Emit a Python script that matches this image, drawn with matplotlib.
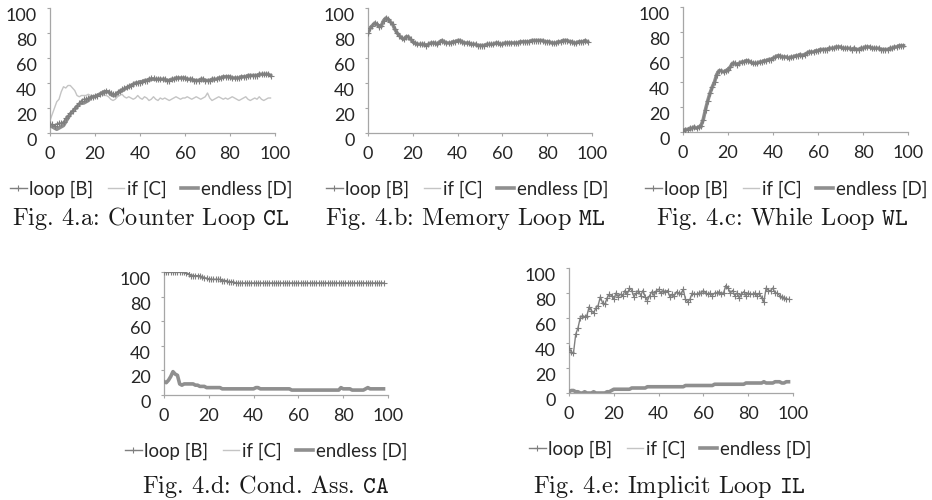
import matplotlib
matplotlib.use("Agg")
import matplotlib.pyplot as plt

plt.rcParams['mathtext.fontset'] = 'cm'

# ---------------- data ----------------
x_iter = list(range(99))

# Fig 4.a Counter Loop
a_loop = [7, 7, 6, 7, 8, 8, 9, 12, 14, 16,
          18, 20, 22, 24, 26, 27, 27, 28, 29, 29,
          30, 30, 31, 32, 33, 34, 33, 32, 31, 31,
          33, 34, 35, 36, 37, 38, 38, 39, 40, 40,
          40, 41, 42, 42, 43, 44, 44, 43, 43, 43,
          43, 43, 42, 42, 43, 43, 44, 44, 44, 44,
          44, 43, 43, 43, 42, 42, 42, 43, 43, 42,
          42, 42, 43, 43, 43, 44, 44, 45, 45, 45,
          45, 44, 44, 44, 44, 45, 45, 45, 46, 46,
          46, 46, 46, 47, 47, 47, 47, 47, 46]
a_if = [10, 15, 20, 25, 27, 33, 37, 36, 38, 38,
        36, 34, 30, 29, 30, 30, 30, 31, 30, 29,
        30, 31, 31, 31, 30, 30, 29, 27, 26, 27,
        29, 30, 31, 29, 28, 29, 28, 27, 28, 30,
        28, 27, 29, 28, 26, 27, 29, 27, 26, 28,
        27, 28, 27, 26, 27, 28, 29, 28, 27, 28,
        28, 29, 28, 27, 28, 29, 28, 27, 28, 29,
        32, 28, 26, 27, 28, 29, 28, 27, 28, 27,
        28, 29, 28, 27, 26, 27, 28, 29, 27, 26,
        27, 28, 27, 29, 27, 26, 27, 28, 28]
a_endless = [6, 5, 4, 3, 4, 5, 6, 9, 12, 15,
             17, 19, 21, 23, 24, 24, 25, 26, 28, 29,
             29, 30, 31, 32, 33, 33, 33, 31, 30, 30,
             32, 33, 34, 35, 36, 37, 38, 39, 40, 40,
             41, 41, 42, 42, 43, 43, 43, 43, 43, 43,
             43, 43, 42, 42, 43, 43, 44, 44, 44, 44,
             44, 43, 43, 43, 42, 42, 42, 43, 43, 42,
             42, 42, 43, 43, 43, 44, 44, 45, 45, 45,
             45, 44, 44, 44, 44, 45, 45, 45, 46, 46,
             46, 46, 46, 47, 47, 47, 47, 47, 46]

# Fig 4.b Memory Loop (all three series coincide)
b_loop = [80, 84, 86, 88, 87, 85, 86, 90, 92, 91,
          89, 87, 83, 80, 78, 76, 75, 77, 77, 75,
          73, 72, 71, 71, 71, 71, 70, 71, 72, 72,
          72, 71, 73, 74, 73, 72, 72, 72, 73, 73,
          74, 74, 73, 72, 72, 72, 71, 71, 71, 70,
          70, 70, 70, 71, 71, 71, 71, 72, 72, 71,
          71, 72, 72, 72, 72, 72, 72, 72, 73, 73,
          73, 73, 73, 74, 74, 74, 74, 74, 74, 73,
          73, 73, 72, 72, 72, 73, 73, 74, 74, 74,
          73, 73, 72, 72, 73, 73, 73, 74, 73]
b_if = list(b_loop)
b_endless = list(b_loop)

# Fig 4.c While Loop (all three series coincide)
c_loop = [1, 2, 2, 3, 3, 4, 3, 4, 5, 10,
          18, 25, 31, 36, 40, 46, 49, 49, 48, 49,
          50, 52, 55, 55, 54, 55, 56, 56, 57, 57,
          56, 55, 55, 55, 56, 56, 57, 57, 58, 58,
          59, 60, 61, 61, 60, 60, 60, 59, 60, 60,
          61, 61, 62, 61, 62, 63, 64, 64, 64, 65,
          65, 66, 66, 66, 66, 67, 67, 67, 68, 68,
          68, 67, 67, 67, 67, 66, 67, 66, 66, 67,
          67, 68, 68, 68, 67, 67, 67, 67, 66, 66,
          66, 66, 67, 67, 68, 68, 69, 69, 69]
c_if = list(c_loop)
c_endless = list(c_loop)

# Fig 4.d Conditional Assignment
d_loop = [100, 100, 100, 100, 100, 100, 100, 100, 100, 100,
          99, 98, 97, 97, 97, 97, 97, 96, 95, 95,
          94, 94, 94, 94, 94, 94, 93, 93, 93, 92,
          92, 92, 91, 91, 91, 91, 91, 91, 91, 91,
          91, 91, 91, 91, 91, 91, 91, 91, 91, 91,
          91, 91, 91, 91, 91, 91, 91, 91, 91, 91,
          91, 91, 91, 91, 91, 91, 91, 91, 91, 91,
          91, 91, 91, 91, 91, 91, 91, 91, 91, 91,
          91, 91, 91, 91, 91, 91, 91, 91, 91, 91,
          91, 91, 91, 91, 91, 91, 91, 91, 91]
d_if = list(d_loop)
d_endless = [11, 10, 12, 15, 19, 17, 16, 9, 8, 9,
             9, 9, 9, 9, 8, 8, 7, 7, 7, 6,
             6, 6, 6, 6, 6, 6, 5, 5, 5, 5,
             5, 5, 5, 5, 5, 5, 5, 5, 5, 5,
             5, 6, 6, 5, 5, 5, 5, 5, 5, 5,
             5, 5, 5, 5, 5, 5, 5, 4, 4, 4,
             4, 4, 4, 4, 4, 4, 4, 4, 4, 4,
             4, 4, 4, 4, 4, 4, 4, 4, 4, 6,
             5, 5, 5, 5, 4, 4, 4, 4, 4, 4,
             5, 6, 5, 5, 5, 5, 5, 5, 5]

# Fig 4.e Implicit Loop
e_loop = [36, 33, 32, 47, 52, 60, 62, 61, 62, 69,
          66, 64, 68, 70, 77, 72, 71, 76, 79, 78,
          75, 80, 77, 79, 78, 82, 79, 84, 82, 77,
          80, 82, 78, 82, 77, 74, 78, 81, 78, 82,
          83, 80, 82, 81, 82, 77, 79, 78, 81, 80,
          79, 83, 75, 73, 75, 80, 79, 79, 80, 80,
          82, 80, 79, 80, 78, 80, 80, 81, 79, 80,
          86, 84, 80, 82, 78, 80, 76, 79, 81, 78,
          80, 79, 79, 80, 78, 80, 76, 73, 84, 82,
          82, 84, 80, 80, 78, 77, 76, 75, 75]
e_endless = [1, 2, 2, 1, 1, 0, 0, 1, 0, 0,
             0, 1, 0, 0, 0, 0, 0, 1, 1, 2,
             3, 3, 3, 3, 3, 3, 3, 3, 4, 4,
             4, 4, 4, 4, 4, 5, 5, 5, 5, 5,
             5, 5, 5, 5, 5, 5, 5, 5, 5, 5,
             5, 5, 6, 6, 6, 6, 6, 6, 6, 6,
             6, 6, 6, 6, 6, 7, 7, 7, 7, 7,
             7, 7, 7, 7, 7, 7, 7, 7, 7, 8,
             8, 8, 8, 8, 8, 8, 8, 9, 8, 8,
             8, 8, 9, 9, 9, 8, 8, 9, 9]
e_if = list(e_endless)

series_names = ['loop [B]', 'if [C]', 'endless [D]']
xticks = [0, 20, 40, 60, 80, 100]
yticks = [0, 20, 40, 60, 80, 100]

captions = ['Fig. 4.a: Counter Loop $\\mathtt{CL}$',
            'Fig. 4.b: Memory Loop $\\mathtt{ML}$',
            'Fig. 4.c: While Loop $\\mathtt{WL}$',
            'Fig. 4.d: Cond. Ass. $\\mathtt{CA}$',
            'Fig. 4.e: Implicit Loop $\\mathtt{IL}$']

panels = [(a_loop, a_if, a_endless), (b_loop, b_if, b_endless),
          (c_loop, c_if, c_endless), (d_loop, d_if, d_endless),
          (e_loop, e_if, e_endless)]

# ---------------- layout (pixels) ----------------
W, H = 932, 500
# (x0, x100, y0, y100) pixel positions of axes
boxes = [(50, 275, 133, 8), (368, 592, 133, 8), (683, 908, 132, 7),
         (164, 388, 395, 272), (569, 793, 393, 268)]
legend_pos = [(151, 189), (467, 189), (786, 189), (266, 451), (670, 449)]
legend_width = 283
caption_pos = [(151, 219), (465, 219), (782, 219), (266, 486), (669, 486)]

fig = plt.figure(figsize=(W / 100, H / 100), dpi=100)

LOOP_C = '#7f7f7f'
IF_C = '#c4c4c4'
END_C = '#8f8f8f'
AX_C = '#a6a6a6'
TXT_C = '#262626'
tick_font = 'Lato'
TICK_FS = 13


def make_legend(handles, pos, size):
    lx, ly = pos
    return fig.legend(handles=handles, labels=series_names, loc='center',
                      bbox_to_anchor=(lx / W, 1 - ly / H), ncol=3, frameon=False,
                      handlelength=0.9, handletextpad=0.15, columnspacing=0.75,
                      borderpad=0, borderaxespad=0, numpoints=1,
                      prop={'family': tick_font, 'size': size}, labelcolor=TXT_C)


for k, (loop, iff, endless) in enumerate(panels):
    x0, x1, y0, y1 = boxes[k]
    ax = fig.add_axes([x0 / W, 1 - y0 / H, (x1 - x0) / W, (y0 - y1) / H])
    ax.patch.set_alpha(0)
    l_if, = ax.plot(x_iter, iff, color=IF_C, lw=1.0, label=series_names[1], zorder=2)
    l_end, = ax.plot(x_iter, endless, color=END_C, lw=2.6, label=series_names[2], zorder=3)
    l_loop, = ax.plot(x_iter, loop, color=LOOP_C, lw=1.0, marker='+', ms=4.5, mew=0.8,
                      label=series_names[0], zorder=4)
    ax.set_xlim(0, 100)
    ax.set_ylim(0, 100)
    ax.set_xticks(xticks)
    ax.set_yticks(yticks)
    ax.set_xticklabels([str(t) for t in xticks])
    ax.set_yticklabels([str(t) for t in yticks])
    for s in ['top', 'right']:
        ax.spines[s].set_visible(False)
    for s in ['left', 'bottom']:
        ax.spines[s].set_color(AX_C)
        ax.spines[s].set_linewidth(0.9)
    ax.tick_params(axis='both', direction='out', length=2.5, width=0.8, color=AX_C,
                   labelsize=TICK_FS, labelcolor=TXT_C)
    ax.tick_params(axis='y', pad=7)
    ax.tick_params(axis='x', pad=7)
    for lab in ax.get_xticklabels() + ax.get_yticklabels():
        lab.set_fontfamily(tick_font)
    for lab in ax.get_yticklabels():
        lab.set_verticalalignment('top')

    # legend, sized to match the reference width
    handles = [l_loop, l_if, l_end]
    size = 13.0
    for _ in range(2):
        leg = make_legend(handles, legend_pos[k], size)
        fig.canvas.draw()
        w = leg.get_window_extent().width
        leg.remove()
        size = size * legend_width / w
    make_legend(handles, legend_pos[k], size)

    cx, cy = caption_pos[k]
    fig.text(cx / W, 1 - cy / H, captions[k], ha='center', va='center',
             family='cmr10', fontsize=17.5, color='#1a1a1a')

fig.savefig('out.png', dpi=100)
